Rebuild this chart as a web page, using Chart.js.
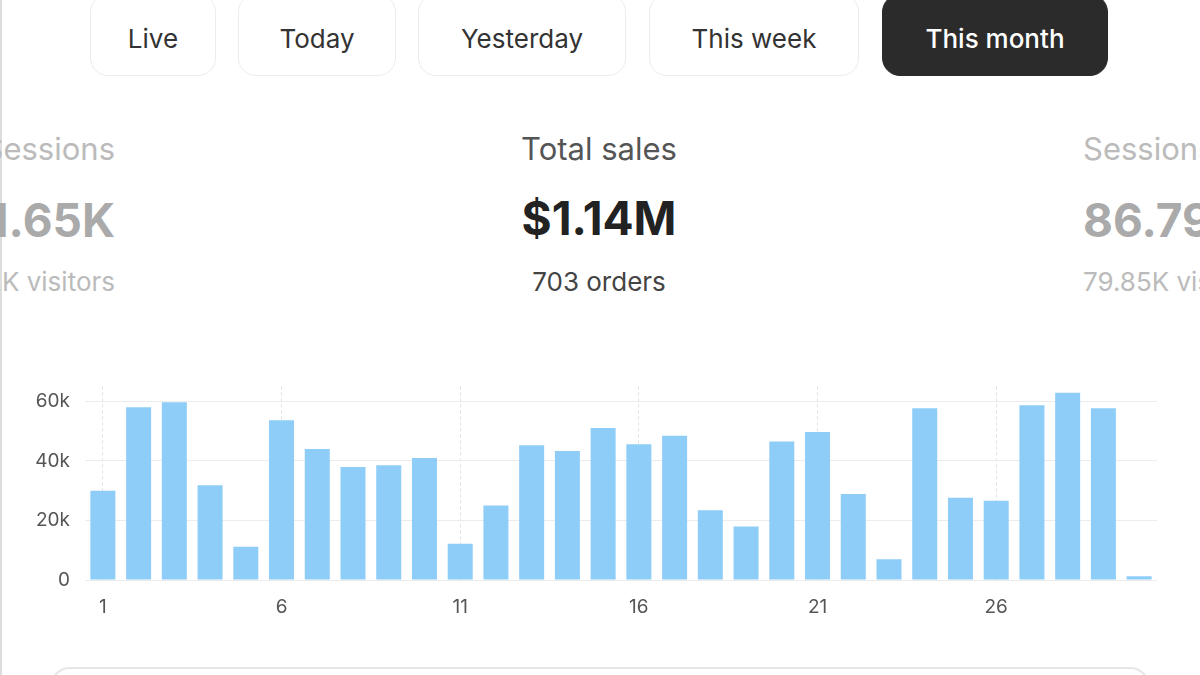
<!DOCTYPE html>
<html><head><meta charset="utf-8">
<script src="https://cdn.jsdelivr.net/npm/chart.js@4"></script>
<style>
html,body{margin:0;padding:0;width:1200px;height:675px;overflow:hidden;background:#fff;font-family:Inter,"Noto Sans",sans-serif;}
.btn{position:absolute;top:-6px;height:82px;border:1.5px solid #ececec;border-radius:18px;box-sizing:border-box;display:flex;align-items:center;justify-content:center;font-size:26px;color:#333;padding-top:6px}
.btn.on{background:#2b2b2b;color:#fff;border-color:#2b2b2b;font-weight:500}
.t{position:absolute;white-space:nowrap}
#wrap{position:absolute;left:0;top:360px;width:1200px;height:260px}
</style></head><body>
<div style="position:absolute;left:0;top:0;width:2px;height:675px;background:#ddd"></div>
<div class="btn" style="left:90px;width:126px">Live</div>
<div class="btn" style="left:238px;width:158px">Today</div>
<div class="btn" style="left:418px;width:208px">Yesterday</div>
<div class="btn" style="left:649px;width:210px">This week</div>
<div class="btn on" style="left:882px;width:226px">This month</div>

<div class="t" style="right:1085px;top:130px;font-size:31px;color:#bbb">Sessions</div>
<div class="t" style="right:1085px;top:192px;font-size:46px;font-weight:700;color:#aaa">1.65K</div>
<div class="t" style="right:1085px;top:266px;font-size:26px;color:#bbb">1.2K visitors</div>

<div class="t" style="left:0;width:1198px;text-align:center;top:130px;font-size:31px;color:#555">Total sales</div>
<div class="t" style="left:0;width:1198px;text-align:center;top:190px;font-size:46px;font-weight:700;color:#222">$1.14M</div>
<div class="t" style="left:0;width:1198px;text-align:center;top:266px;font-size:26px;color:#444">703 orders</div>

<div class="t" style="left:1083px;top:130px;font-size:31px;color:#bbb">Sessions</div>
<div class="t" style="left:1083px;top:192px;font-size:46px;font-weight:700;color:#aaa">86.79K</div>
<div class="t" style="left:1083px;top:266px;font-size:26px;color:#bbb">79.85K visitors</div>

<div id="wrap"><canvas id="c"></canvas></div>
<div style="position:absolute;left:50px;top:667px;width:1100px;height:60px;border:2px solid #e6e6e6;border-radius:20px;box-sizing:border-box"></div>
<script>
const days = Array.from({length:30},(_,i)=>String(i+1));
const sales = [30000,58000,59700,31800,11200,53600,44000,37900,38500,41000,12200,25000,45200,43300,51000,45600,48400,23400,18000,46500,49700,28900,7000,57700,27600,26600,58700,62900,57700,1300];
const yTicks = [0,20000,40000,60000];
new Chart(document.getElementById('c'),{
 type:'bar',
 data:{labels:days,datasets:[{data:sales,backgroundColor:'#8fcdf9',barPercentage:0.7,categoryPercentage:1}]},
 options:{responsive:true,maintainAspectRatio:false,animation:false,
  layout:{padding:{top:17,right:43,left:0,bottom:0}},
  plugins:{legend:{display:false},tooltip:{enabled:false}},
  scales:{
   x:{offset:true,grid:{offset:false,color:(c)=>c.index%5===0?'#e0e0e0':'transparent',drawTicks:false},border:{display:false,dash:[3,3]},
      ticks:{autoSkip:false,maxRotation:0,padding:16,color:'#555',font:{family:'Inter',size:19},callback:(v,i)=>i%5===0?days[i]:''},
      afterFit:(s)=>{s.height=40;}},
   y:{min:0,max:65000,grid:{color:'#ececec',drawTicks:false},border:{display:false},
      afterBuildTicks:(s)=>{s.ticks=yTicks.map(v=>({value:v}));},
      ticks:{padding:15,color:'#555',font:{family:'Inter',size:19},callback:(v)=>v===0?'0':(v/1000)+'k'},
      afterFit:(s)=>{s.width=85;}}
  }}
});
</script>
</body></html>
